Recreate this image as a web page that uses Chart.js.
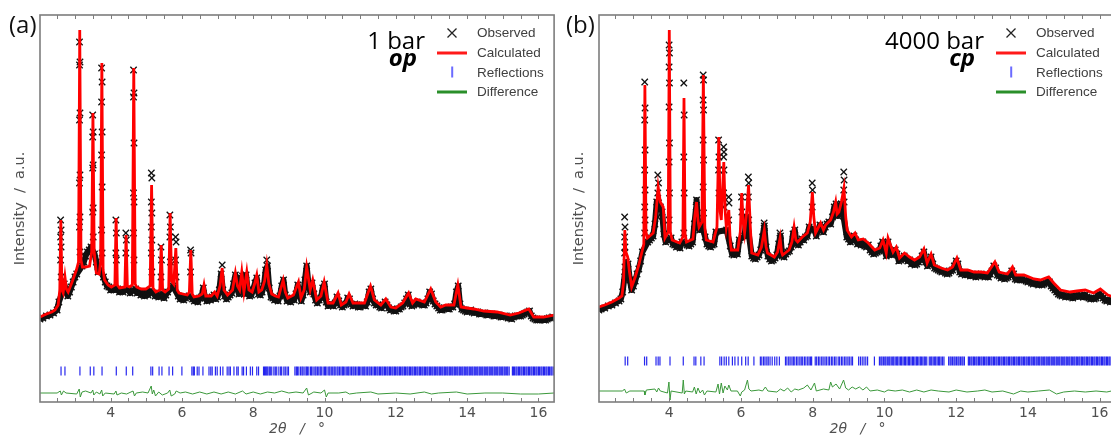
<!DOCTYPE html>
<html>
<head>
<meta charset="utf-8">
<script src="https://cdn.jsdelivr.net/npm/chart.js@4.4.1/dist/chart.umd.min.js"></script>
<style>
body { margin: 0; width: 1111px; height: 436px; overflow: hidden; background: #fff; position: relative; }
.panel { position: absolute; top: 0; height: 436px; }
.tag { position: absolute; font-family: "Open Sans", sans-serif; font-size: 24px; color: #111; white-space: nowrap; line-height: normal; }
.cond { position: absolute; font-family: "Open Sans", sans-serif; font-size: 24px; color: #000; white-space: nowrap; line-height: normal; text-align: right; }
.cond.ph { font-weight: bold; font-style: italic; }
.leg { position: absolute; font-family: "Liberation Sans", Arial, sans-serif; font-size: 13.5px; color: #404040; }
.leg .row { height: 19.7px; display: flex; align-items: center; }
.leg .sym { width: 30px; height: 19.7px; position: relative; margin-right: 10px; }
.leg .sym > * { position: absolute; left: 50%; top: 50%; transform: translate(-50%, -50%); }
</style>
</head>
<body>
<div class="panel" style="left:0;width:560px"><canvas id="ca" width="560" height="436"></canvas></div>
<div class="panel" style="left:559px;width:563px"><canvas id="cb" width="563" height="436"></canvas></div>

<div class="tag" style="left:9px;top:7px">(a)</div>
<div class="tag" style="left:566px;top:7px">(b)</div>
<div class="cond" style="right:686px;top:23px">1 bar</div>
<div class="cond ph" style="right:694px;top:40px">op</div>
<div class="cond" style="right:127px;top:23px">4000 bar</div>
<div class="cond ph" style="right:136px;top:40px">cp</div>

<div class="leg" style="left:437px;top:23px" id="lega"></div>
<div class="leg" style="left:996px;top:23px" id="legb"></div>

<script>
// (a) 1 bar, op  -- intensities in a.u.
var calcA = [[2.02,85],[2.2,88],[2.35,90],[2.44,92],[2.53,97],[2.575,112],[2.605,182],[2.635,112],[2.67,109],[2.72,125],[2.76,113],[2.81,110],[2.92,120],[3.04,132],[3.10,140],[3.135,372],[3.17,142],[3.21,135],[3.30,135],[3.41,136],[3.47,150],[3.505,289],[3.54,150],[3.60,129],[3.68,128],[3.72,140],[3.755,339],[3.79,132],[3.83,122],[3.93,117],[4.02,115],[4.12,117],[4.155,184],[4.19,117],[4.25,114],[4.40,115],[4.435,167],[4.47,116],[4.53,115],[4.61,117],[4.65,334],[4.69,118],[4.73,115],[4.86,113],[4.99,113],[5.11,116],[5.15,217],[5.19,114],[5.27,110],[5.38,112],[5.42,157],[5.46,112],[5.53,110],[5.63,113],[5.67,189],[5.71,121],[5.77,118],[5.83,154],[5.87,112],[5.92,109],[6.15,107],[6.21,110],[6.25,152],[6.29,108],[6.34,105],[6.48,106],[6.57,108],[6.62,117],[6.67,106],[6.82,106],[6.92,110],[6.99,106],[7.07,116],[7.13,134],[7.18,112],[7.28,107],[7.42,112],[7.50,129],[7.56,116],[7.62,112],[7.68,130],[7.74,110],[7.82,130],[7.88,112],[7.97,110],[8.04,118],[8.10,127],[8.16,110],[8.24,112],[8.32,121],[8.38,137],[8.44,118],[8.52,108],[8.62,106],[8.71,105],[8.84,122],[8.90,110],[8.97,104],[9.13,107],[9.27,120],[9.34,104],[9.43,112],[9.50,135],[9.60,112],[9.67,122],[9.78,102],[9.90,106],[9.99,120],[10.10,99],[10.24,99],[10.38,109],[10.47,97],[10.60,100],[10.69,108],[10.80,99],[11.12,99],[11.29,116],[11.40,102],[11.58,97],[11.72,103],[11.86,95],[12.00,94],[12.19,99],[12.36,109],[12.47,99],[12.56,103],[12.80,100],[12.98,113],[13.12,100],[13.26,95],[13.40,97],[13.63,97],[13.74,117],[13.83,95],[14.00,94],[14.19,93],[14.47,91],[14.84,90],[15.21,87],[15.45,89],[15.73,93],[15.87,85],[16.15,85],[16.44,87]];

var obsA = [[2.02,83],[2.1,84],[2.2,86],[2.3,87],[2.4,89],[2.5,92],[2.55,100],[2.65,110],[2.7,118],[2.75,112],[2.8,106],[2.85,110],[2.9,115],[2.95,120],[3.0,125],[3.05,128],[3.2,136],[3.25,140],[3.3,146],[3.35,150],[3.4,152],[3.45,155],[3.55,148],[3.6,140],[3.65,130],[3.7,132],[3.8,125],[3.85,120],[3.9,116],[3.95,115],[4.0,112],[4.05,113],[4.1,112],[4.2,113],[4.25,110],[4.3,111],[4.35,110],[4.4,112],[4.5,112],[4.55,109],[4.6,111],[4.7,113],[4.75,109],[4.8,110],[4.85,107],[4.9,109],[4.95,106],[5.0,110],[5.05,107],[5.1,111],[5.2,109],[5.25,106],[5.3,108],[5.35,105],[5.45,108],[5.5,104],[5.55,107],[5.6,110],[5.75,116],[5.9,106],[5.95,103],[6.0,105],[6.05,102],[6.1,104],[6.2,106],[6.3,103],[6.35,101],[6.4,103],[6.45,100],[6.5,104],[6.55,105],[6.6,114],[6.65,104],[6.7,101],[6.75,104],[6.8,102],[6.85,105],[6.9,107],[6.95,103],[7.0,105],[7.05,112],[7.1,128],[7.15,112],[7.2,106],[7.25,103],[7.3,105],[7.35,107],[7.4,109],[7.45,118],[7.5,127],[7.55,113],[7.6,108],[7.65,124],[7.7,126],[7.75,108],[7.8,127],[7.85,110],[7.9,106],[7.95,107],[8.0,112],[8.05,119],[8.1,124],[8.15,108],[8.2,107],[8.25,110],[8.3,116],[8.35,132],[8.4,136],[8.45,114],[8.5,105],[8.55,104],[8.6,102],[8.65,104],[8.7,101],[8.75,106],[8.8,116],[8.85,122],[8.9,107],[8.95,101],[9.0,103],[9.05,100],[9.1,104],[9.15,102],[9.2,108],[9.25,117],[9.3,109],[9.35,101],[9.4,107],[9.45,122],[9.5,136],[9.55,118],[9.6,110],[9.65,119],[9.7,108],[9.75,102],[9.8,99],[9.85,102],[9.9,104],[9.95,114],[10.0,118],[10.05,100],[10.1,96],[10.15,98],[10.2,97],[10.25,96],[10.3,99],[10.35,105],[10.4,101],[10.45,97],[10.5,95],[10.55,97],[10.6,98],[10.65,104],[10.7,103],[10.75,98],[10.8,96],[10.85,98],[10.9,97],[10.95,95],[11.0,95],[11.05,97],[11.1,97],[11.15,96],[11.2,100],[11.25,110],[11.3,113],[11.35,103],[11.4,99],[11.45,97],[11.5,97],[11.55,95],[11.6,94],[11.65,97],[11.7,100],[11.75,97],[11.8,94],[11.85,92],[11.9,93],[11.95,91],[12.0,91],[12.05,93],[12.1,93],[12.15,95],[12.2,96],[12.25,99],[12.3,103],[12.35,107],[12.4,98],[12.45,96],[12.5,97],[12.55,99],[12.6,100],[12.65,98],[12.7,98],[12.75,97],[12.8,97],[12.85,99],[12.9,103],[12.95,110],[13.0,108],[13.05,101],[13.1,98],[13.15,96],[13.2,94],[13.25,92],[13.3,92],[13.35,94],[13.4,94],[13.45,93],[13.5,93],[13.55,95],[13.6,95],[13.65,98],[13.7,110],[13.75,116],[13.8,98],[13.85,93],[13.9,92],[13.95,91],[14.0,90],[14.05,91],[14.1,92],[14.15,90],[14.2,89],[14.25,90],[14.3,90],[14.35,88],[14.4,88],[14.45,89],[14.5,89],[14.55,87],[14.6,87],[14.65,88],[14.7,88],[14.75,86],[14.8,86],[14.85,87],[14.9,87],[14.95,85],[15.0,85],[15.05,86],[15.1,86],[15.15,84],[15.2,84],[15.25,83],[15.3,85],[15.35,86],[15.4,86],[15.45,86],[15.5,86],[15.55,87],[15.6,88],[15.65,89],[15.7,90],[15.75,91],[15.8,86],[15.85,84],[15.9,83],[15.95,82],[16.0,82],[16.05,82],[16.1,83],[16.15,82],[16.2,82],[16.25,83],[16.3,84],[16.35,84],[16.4,85]];

var obsPeaksA = [[2.598,182],[2.612,172],[2.598,165],[2.612,155],[2.598,142],[2.612,125],[3.128,360],[3.142,340],[3.128,337],[3.142,289],[3.128,282],[3.142,227],[3.128,219],[3.142,185],[3.128,175],[3.142,150],[3.498,287],[3.512,270],[3.498,265],[3.512,237],[3.498,234],[3.512,194],[3.498,190],[3.512,165],[3.748,334],[3.762,320],[3.748,300],[3.762,270],[3.748,247],[3.762,215],[3.748,172],[3.762,149],[4.148,182],[4.162,169],[4.148,149],[4.162,142],[4.428,169],[4.442,162],[4.428,149],[4.643,332],[4.657,309],[4.643,305],[4.657,259],[4.643,209],[4.657,200],[4.643,169],[4.657,142],[5.143,229],[5.157,224],[5.143,200],[5.157,189],[5.143,175],[5.157,162],[5.143,149],[5.157,130],[5.413,155],[5.427,142],[5.413,125],[5.663,187],[5.677,175],[5.663,165],[5.677,140],[5.823,165],[5.837,160],[5.823,142],[5.837,125],[6.243,152],[6.257,149],[6.243,130],[7.13,137],[8.38,142]];

var diffA = [[2.02,9],[2.5,9],[2.59,11],[2.62,7],[2.68,11],[2.75,9],[3.05,8],[3.12,13],[3.15,5],[3.2,10],[3.3,11],[3.45,9],[3.5,12],[3.53,7],[3.6,10],[3.7,8],[3.75,12],[3.78,6],[3.85,9],[4.1,8],[4.15,11],[4.18,7],[4.3,9],[4.45,8],[4.63,11],[4.67,6],[4.72,9],[4.9,10],[5.05,9],[5.14,16],[5.17,8],[5.21,12],[5.26,6],[5.35,10],[5.45,7],[5.6,9],[5.66,12],[5.7,6],[5.8,8],[5.84,11],[5.95,9],[6.1,10],[6.3,8],[6.5,10],[6.7,8],[6.9,10],[7.1,8],[7.3,10],[7.5,8],[7.7,11],[7.8,8],[8.0,10],[8.2,8],[8.4,10],[8.6,9],[8.8,11],[9.0,9],[9.2,10],[9.4,9],[9.5,14],[9.55,7],[9.7,10],[9.9,9],[10.0,12],[10.05,5],[10.1,9],[10.4,9],[10.6,10],[10.7,8],[10.9,9],[11.3,10],[11.5,8],[12.0,9],[12.4,8],[12.8,10],[13.0,8],[13.2,9],[13.7,10],[14.0,8],[14.5,9],[15.0,9],[15.5,8],[16.0,8],[16.44,9]];

var reflA = [2.61,2.72,3.14,3.43,3.53,3.76,4.16,4.44,4.62,5.13,5.18,5.36,5.44,5.64,5.74,6.00,6.28,6.32,6.35,6.43,6.48,6.59,6.76,6.81,6.85,6.94,6.99,7.08,7.15,7.27,7.32,7.36,7.46,7.54,7.58,7.69,7.73,7.81,7.92,7.98,8.10,8.15,8.29,8.32,8.35,8.38,8.41,8.45,8.48,8.52,8.58,8.62,8.66,8.72,8.77,8.80,8.86,8.90,8.95,8.99,9.17,9.21,9.24,9.28,9.33,9.37,9.40,9.45,9.49,9.52,9.56,9.61,9.64,9.68,9.73,9.76,9.80,9.84,9.88,9.91,9.96,10.00,10.03,10.07,10.12,10.15,10.19,10.23,10.27,10.30,10.35,10.38,10.42,10.46,10.50,10.53,10.57,10.61,10.65,10.68,10.72,10.76,10.80,10.83,10.87,10.91,10.95,10.98,11.02,11.06,11.10,11.13,11.17,11.21,11.25,11.28,11.32,11.36,11.40,11.43,11.47,11.50,11.54,11.57,11.61,11.64,11.68,11.71,11.75,11.78,11.82,11.85,11.89,11.92,11.96,11.99,12.03,12.06,12.10,12.13,12.17,12.20,12.24,12.27,12.31,12.34,12.38,12.41,12.45,12.48,12.52,12.55,12.59,12.62,12.66,12.69,12.73,12.76,12.80,12.83,12.87,12.90,12.94,12.97,13.01,13.04,13.08,13.11,13.15,13.18,13.22,13.25,13.29,13.32,13.36,13.39,13.43,13.46,13.50,13.53,13.57,13.60,13.64,13.67,13.71,13.74,13.78,13.81,13.85,13.88,13.92,13.95,13.99,14.02,14.06,14.09,14.13,14.16,14.20,14.23,14.27,14.30,14.34,14.37,14.41,14.44,14.48,14.51,14.55,14.58,14.62,14.65,14.69,14.72,14.76,14.79,14.83,14.86,14.90,14.93,14.97,15.00,15.04,15.07,15.11,15.14,15.18,15.27,15.30,15.33,15.37,15.40,15.44,15.47,15.51,15.54,15.58,15.61,15.65,15.68,15.72,15.75,15.79,15.82,15.86,15.89,15.93,15.96,16.00,16.03,16.07,16.10,16.14,16.17,16.21,16.24,16.28,16.31,16.35,16.38,16.42];

// (b) 4000 bar, cp
var calcB = [[2.04,95],[2.2,97],[2.40,100],[2.60,104],[2.68,106],[2.725,120],[2.76,172],[2.79,150],[2.84,145],[2.89,130],[2.95,115],[3.05,125],[3.15,137],[3.23,149],[3.29,158],[3.32,317],[3.35,170],[3.39,164],[3.55,169],[3.62,185],[3.69,215],[3.75,200],[3.83,195],[3.88,164],[3.97,170],[4.0,372],[4.03,170],[4.08,162],[4.29,159],[4.38,165],[4.41,304],[4.44,168],[4.48,160],[4.66,163],[4.71,185],[4.76,200],[4.80,182],[4.83,175],[4.91,180],[4.95,327],[4.99,175],[5.03,162],[5.22,160],[5.33,175],[5.38,265],[5.42,190],[5.45,182],[5.52,240],[5.56,190],[5.59,175],[5.66,192],[5.70,160],[5.73,152],[5.91,152],[5.98,170],[6.02,209],[6.06,180],[6.10,169],[6.16,190],[6.21,217],[6.26,175],[6.30,149],[6.47,147],[6.57,155],[6.65,172],[6.70,155],[6.74,149],[6.93,145],[7.02,150],[7.09,164],[7.13,150],[7.16,147],[7.34,152],[7.42,160],[7.48,175],[7.53,162],[7.58,160],[7.71,165],[7.85,169],[7.93,180],[7.99,210],[8.03,185],[8.08,169],[8.22,179],[8.30,172],[8.36,177],[8.50,182],[8.58,190],[8.64,200],[8.68,188],[8.73,190],[8.80,200],[8.87,214],[8.92,185],[8.96,172],[9.08,165],[9.18,169],[9.27,162],[9.41,163],[9.55,159],[9.73,152],[9.87,154],[9.96,162],[10.05,149],[10.10,164],[10.24,150],[10.33,155],[10.42,144],[10.56,149],[10.70,145],[10.84,142],[10.98,145],[11.10,153],[11.19,139],[11.30,148],[11.39,137],[11.58,134],[11.76,132],[11.90,135],[12.02,144],[12.13,132],[12.32,132],[12.50,130],[12.69,130],[12.87,129],[13.08,140],[13.20,130],[13.43,128],[13.57,135],[13.66,127],[13.89,127],[14.17,123],[14.35,122],[14.58,125],[14.72,119],[14.91,112],[15.18,110],[15.37,111],[15.60,112],[15.83,109],[16.02,113],[16.23,107],[16.46,104]];

var obsB = [[2.04,92],[2.1,93],[2.2,94],[2.3,96],[2.4,97],[2.5,99],[2.6,101],[2.65,103],[2.7,110],[2.8,140],[2.85,138],[2.9,122],[2.95,112],[3.0,116],[3.05,121],[3.1,128],[3.15,133],[3.2,141],[3.25,150],[3.4,160],[3.45,162],[3.5,164],[3.55,166],[3.6,178],[3.65,200],[3.75,195],[3.8,190],[3.85,168],[3.9,160],[3.95,162],[4.05,164],[4.1,158],[4.15,157],[4.2,155],[4.25,156],[4.3,154],[4.35,160],[4.5,157],[4.55,156],[4.6,158],[4.65,160],[4.7,178],[4.75,195],[4.76,202],[4.8,180],[4.85,172],[4.9,178],[5.0,165],[5.05,158],[5.1,156],[5.15,155],[5.2,157],[5.25,158],[5.3,170],[5.6,172],[5.7,156],[5.75,148],[5.8,147],[5.85,149],[5.9,148],[5.95,162],[6.1,166],[6.15,185],[6.3,146],[6.35,144],[6.4,143],[6.45,145],[6.5,147],[6.55,152],[6.6,165],[6.65,176],[6.7,155],[6.75,146],[6.8,143],[6.85,141],[6.9,142],[6.95,144],[7.0,147],[7.05,158],[7.1,166],[7.15,146],[7.2,145],[7.25,148],[7.3,150],[7.35,151],[7.4,155],[7.45,168],[7.5,172],[7.55,158],[7.6,157],[7.65,160],[7.7,163],[7.75,162],[7.8,165],[7.85,166],[7.9,175],[8.05,172],[8.1,166],[8.15,172],[8.2,177],[8.25,174],[8.3,170],[8.35,175],[8.4,178],[8.45,180],[8.5,178],[8.55,185],[8.6,195],[8.65,198],[8.7,186],[8.75,190],[8.8,198],[8.95,165],[9.0,163],[9.05,160],[9.1,164],[9.15,166],[9.2,162],[9.25,158],[9.3,160],[9.35,157],[9.4,160],[9.45,156],[9.5,155],[9.55,157],[9.6,152],[9.65,150],[9.7,148],[9.75,149],[9.8,150],[9.85,151],[9.9,156],[9.95,160],[10.0,152],[10.05,146],[10.1,160],[10.15,150],[10.2,147],[10.25,148],[10.3,152],[10.35,148],[10.4,141],[10.45,142],[10.5,144],[10.55,146],[10.6,143],[10.65,141],[10.7,142],[10.75,138],[10.8,139],[10.85,137],[10.9,138],[10.95,140],[11.0,142],[11.05,146],[11.1,150],[11.15,140],[11.2,136],[11.25,140],[11.3,145],[11.35,138],[11.4,134],[11.45,133],[11.5,132],[11.55,131],[11.6,130],[11.65,131],[11.7,129],[11.75,128],[11.8,129],[11.85,131],[11.9,132],[11.95,136],[12.0,141],[12.05,138],[12.1,130],[12.15,128],[12.2,129],[12.25,127],[12.3,129],[12.35,128],[12.4,126],[12.45,128],[12.5,127],[12.55,125],[12.6,127],[12.65,126],[12.7,128],[12.75,126],[12.8,125],[12.85,126],[12.9,125],[12.95,128],[13.0,131],[13.05,136],[13.1,134],[13.15,127],[13.2,126],[13.25,124],[13.3,125],[13.35,123],[13.4,124],[13.45,125],[13.5,127],[13.55,131],[13.6,128],[13.65,123],[13.7,122],[13.75,124],[13.8,122],[13.85,123],[13.9,122],[13.95,121],[14.0,120],[14.05,121],[14.1,119],[14.15,118],[14.2,119],[14.25,118],[14.3,117],[14.35,118],[14.4,117],[14.45,118],[14.5,119],[14.55,121],[14.6,120],[14.65,116],[14.7,114],[14.75,112],[14.8,110],[14.85,108],[14.9,107],[14.95,106],[15.0,107],[15.05,105],[15.1,106],[15.15,105],[15.2,106],[15.25,104],[15.3,106],[15.35,107],[15.4,105],[15.45,106],[15.5,107],[15.55,105],[15.6,107],[15.65,105],[15.7,104],[15.75,103],[15.8,104],[15.85,103],[15.9,104],[15.95,107],[16.0,108],[16.05,106],[16.1,104],[16.15,102],[16.2,101],[16.25,102],[16.3,100],[16.35,101],[16.4,100],[16.45,99]];

var obsPeaksB = [[2.755,185],[2.765,175],[2.755,165],[2.765,155],[2.755,149],[2.765,135],[2.755,125],[3.315,320],[3.325,294],[3.315,282],[3.325,252],[3.315,232],[3.325,212],[3.315,195],[3.325,182],[3.315,169],[3.68,227],[3.70,219],[3.68,209],[3.70,199],[3.68,185],[3.995,357],[4.005,349],[3.995,335],[4.005,319],[3.995,295],[4.005,259],[3.995,240],[4.005,209],[3.995,182],[4.405,319],[4.415,287],[4.405,245],[4.415,209],[4.405,169],[4.945,327],[4.955,322],[4.945,302],[4.955,292],[4.945,262],[4.955,242],[4.945,215],[4.955,189],[5.375,262],[5.385,245],[5.375,232],[5.385,209],[5.515,255],[5.525,250],[5.515,245],[5.525,232],[5.515,209],[5.525,195],[5.655,205],[5.665,199],[5.655,182],[6.015,205],[6.025,190],[6.205,225],[6.215,219],[6.205,205],[6.215,182],[6.645,179],[6.655,169],[7.085,169],[7.095,162],[7.985,219],[7.995,212],[7.985,195],[8.865,230],[8.875,222],[8.865,212],[8.875,200]];

var diffB = [[2.04,11],[2.7,11],[2.75,13],[2.8,9],[2.9,11],[3.3,11],[3.32,7],[3.36,12],[3.6,13],[3.65,10],[3.7,14],[3.75,11],[3.95,9],[3.99,20],[4.02,2],[4.05,11],[4.36,9],[4.39,22],[4.42,8],[4.46,11],[4.65,10],[4.7,15],[4.75,8],[4.8,14],[4.86,9],[4.93,12],[4.98,7],[5.05,11],[5.3,10],[5.36,18],[5.4,8],[5.45,19],[5.5,9],[5.55,16],[5.62,12],[5.66,17],[5.72,11],[5.9,11],[5.98,6],[6.02,10],[6.1,12],[6.18,22],[6.22,13],[6.28,11],[6.5,12],[6.6,11],[6.68,15],[6.75,11],[7.0,10],[7.1,13],[7.2,11],[7.3,14],[7.4,10],[7.5,13],[7.6,12],[7.75,14],[7.85,17],[7.95,12],[8.05,19],[8.1,11],[8.3,13],[8.45,12],[8.5,20],[8.55,15],[8.65,18],[8.75,13],[8.86,22],[8.92,14],[9.0,12],[9.1,15],[9.2,13],[9.3,15],[9.4,12],[9.5,15],[9.6,11],[9.8,12],[10.0,10],[10.1,12],[10.3,11],[10.5,12],[10.7,10],[10.9,12],[11.1,10],[11.3,12],[11.5,11],[11.8,10],[12.0,12],[12.3,10],[12.6,11],[12.8,12],[13.0,10],[13.3,11],[13.6,8],[13.8,11],[14.0,10],[14.3,11],[14.6,12],[14.8,8],[15.0,10],[15.3,11],[15.6,10],[15.9,11],[16.2,10],[16.46,12]];

var reflB = [2.77,2.84,3.31,3.37,3.63,3.69,3.74,4.02,4.39,4.69,4.74,4.88,4.97,5.41,5.46,5.53,5.59,5.66,5.76,5.83,5.92,6.02,6.13,6.20,6.36,6.54,6.58,6.63,6.67,6.72,6.76,6.81,6.87,6.94,7.00,7.07,7.24,7.28,7.33,7.37,7.42,7.46,7.50,7.55,7.59,7.64,7.68,7.72,7.77,7.81,7.86,7.90,7.94,7.97,8.07,8.11,8.16,8.20,8.25,8.29,8.34,8.38,8.43,8.47,8.52,8.56,8.61,8.65,8.71,8.75,8.80,8.84,8.89,8.93,8.98,9.02,9.07,9.11,9.28,9.33,9.38,9.43,9.48,9.53,9.72,9.86,9.90,9.93,9.97,10.01,10.04,10.08,10.12,10.15,10.19,10.23,10.26,10.30,10.34,10.37,10.41,10.45,10.48,10.52,10.56,10.59,10.63,10.67,10.70,10.74,10.78,10.81,10.85,10.89,10.92,10.96,11.00,11.03,11.07,11.11,11.14,11.18,11.25,11.29,11.32,11.36,11.40,11.43,11.47,11.51,11.54,11.58,11.62,11.66,11.79,11.83,11.86,11.90,11.94,11.97,12.01,12.05,12.08,12.12,12.16,12.19,12.23,12.34,12.37,12.41,12.44,12.48,12.51,12.55,12.58,12.62,12.65,12.69,12.72,12.76,12.79,12.83,12.86,12.90,12.93,12.97,13.00,13.04,13.07,13.11,13.14,13.18,13.21,13.25,13.28,13.32,13.35,13.39,13.42,13.46,13.49,13.53,13.56,13.60,13.63,13.67,13.70,13.74,13.77,13.81,13.84,13.88,13.91,13.95,13.98,14.02,14.05,14.09,14.12,14.16,14.19,14.23,14.26,14.30,14.33,14.37,14.40,14.44,14.47,14.51,14.54,14.58,14.61,14.65,14.68,14.72,14.75,14.79,14.82,14.86,14.89,14.93,14.96,15.00,15.03,15.07,15.10,15.14,15.17,15.21,15.24,15.28,15.31,15.35,15.38,15.42,15.45,15.49,15.52,15.56,15.59,15.63,15.66,15.70,15.73,15.77,15.80,15.84,15.87,15.91,15.94,15.98,16.01,16.05,16.08,16.12,16.15,16.19,16.22,16.26,16.29,16.33,16.36,16.40,16.43];

var legendLabels = ["Observed", "Calculated", "Reflections", "Difference"];

function pts(arr) {
    return arr.map(function (p) { return { x: p[0], y: p[1] }; });
}

// inward tick marks every 0.5 deg and grey frame
var frame = {
    id: 'frame',
    afterDatasetsDraw: function (chart) {
        var ctx = chart.ctx, a = chart.chartArea, sx = chart.scales.x;
        ctx.save();
        ctx.strokeStyle = '#7d7d7d';
        ctx.lineWidth = 1;
        sx.ticks.forEach(function (t) {
            var px = Math.round(sx.getPixelForValue(t.value)) + 0.5;
            if (px <= a.left + 1 || px >= a.right - 1) return;
            ctx.beginPath();
            ctx.moveTo(px, a.top); ctx.lineTo(px, a.top + 4);
            ctx.moveTo(px, a.bottom); ctx.lineTo(px, a.bottom - 4);
            ctx.stroke();
        });
        ctx.lineWidth = 1.6;
        ctx.strokeRect(a.left, a.top, a.right - a.left, a.bottom - a.top);
        ctx.restore();
    }
};

var axisFont = 'DejaVu Sans';

function makeChart(id, calc, obs, peaks, diff, refl, reflLevel, xmin, xmax, padRight) {
    return new Chart(document.getElementById(id), {
        type: 'scatter',
        data: {
            datasets: [{
                label: 'Calculated',
                data: pts(calc),
                showLine: true,
                borderColor: '#ff0000',
                borderWidth: 2.8,
                pointRadius: 0,
                tension: 0
            }, {
                label: 'Observed',
                data: pts(obs),
                showLine: true,
                borderColor: '#111',
                borderWidth: 6,
                borderJoinStyle: 'round',
                tension: 0,
                pointStyle: 'crossRot',
                pointRadius: 4.5,
                pointBorderColor: '#111',
                pointBorderWidth: 1.4,
                pointBackgroundColor: 'transparent'
            }, {
                label: 'Observed (peaks)',
                data: pts(peaks),
                pointStyle: 'crossRot',
                pointRadius: 4.5,
                borderColor: '#111',
                pointBorderWidth: 1.3,
                backgroundColor: 'transparent'
            }, {
                label: 'Reflections',
                data: refl.map(function (x) { return { x: x, y: reflLevel }; }),
                pointStyle: 'line',
                rotation: 90,
                pointRadius: 4.5,
                borderColor: 'rgba(0,0,235,0.85)',
                pointBorderWidth: 1.2
            }, {
                label: 'Difference',
                data: pts(diff),
                showLine: true,
                borderColor: '#3a983a',
                borderWidth: 1,
                pointRadius: 0,
                tension: 0
            }]
        },
        options: {
            responsive: false,
            animation: false,
            events: [],
            layout: { padding: { top: 15, right: padRight, left: 0, bottom: 0 } },
            plugins: { legend: { display: false }, tooltip: { enabled: false } },
            scales: {
                x: {
                    type: 'linear',
                    min: xmin,
                    max: xmax,
                    grid: { display: false, drawTicks: false },
                    border: { display: false },
                    ticks: {
                        stepSize: 0.5,
                        includeBounds: false,
                        autoSkip: false,
                        maxRotation: 0,
                        padding: 3,
                        color: '#505050',
                        font: { family: axisFont, size: 14 },
                        callback: function (v) {
                            var r = Math.round(v);
                            if (Math.abs(v - r) < 1e-6 && r % 2 === 0 && r >= 4) return String(r);
                            return '';
                        }
                    },
                    title: {
                        display: true,
                        text: '2θ   /   °',
                        color: '#505050',
                        font: { family: axisFont, size: 14, style: 'italic' },
                        padding: { top: 0, bottom: -2 }
                    },
                    afterFit: function (scale) { scale.height = 34; }
                },
                y: {
                    min: 0,
                    max: 387,
                    grid: { display: false, drawTicks: false },
                    border: { display: false },
                    ticks: { display: false },
                    title: {
                        display: true,
                        text: 'Intensity  /  a.u.',
                        color: '#505050',
                        font: { family: axisFont, size: 14.5 },
                        padding: { top: 12, bottom: 0 }
                    },
                    afterFit: function (scale) { scale.width = 40; }
                }
            }
        },
        plugins: [frame]
    });
}

makeChart('ca', calcA, obsA, obsPeaksA, diffA, reflA, 31, 2.02, 16.44, 2);
makeChart('cb', calcB, obsB, obsPeaksB, diffB, reflB, 41, 2.04, 16.46, 3);

// in-plot legends
function buildLegend(id) {
    var el = document.getElementById(id);
    var syms = [
        '<svg width="11" height="11"><path d="M1 1 L10 10 M10 1 L1 10" stroke="#222" stroke-width="1.3"/></svg>',
        '<div style="width:30px;height:3px;background:#ff1a1a"></div>',
        '<div style="width:1.6px;height:11px;background:#6b6bff"></div>',
        '<div style="width:30px;height:3px;background:#2a8f2a"></div>'
    ];
    legendLabels.forEach(function (t, i) {
        var row = document.createElement('div');
        row.className = 'row';
        row.innerHTML = '<span class="sym">' + syms[i] + '</span><span>' + t + '</span>';
        el.appendChild(row);
    });
}
buildLegend('lega');
buildLegend('legb');
</script>
</body>
</html>
